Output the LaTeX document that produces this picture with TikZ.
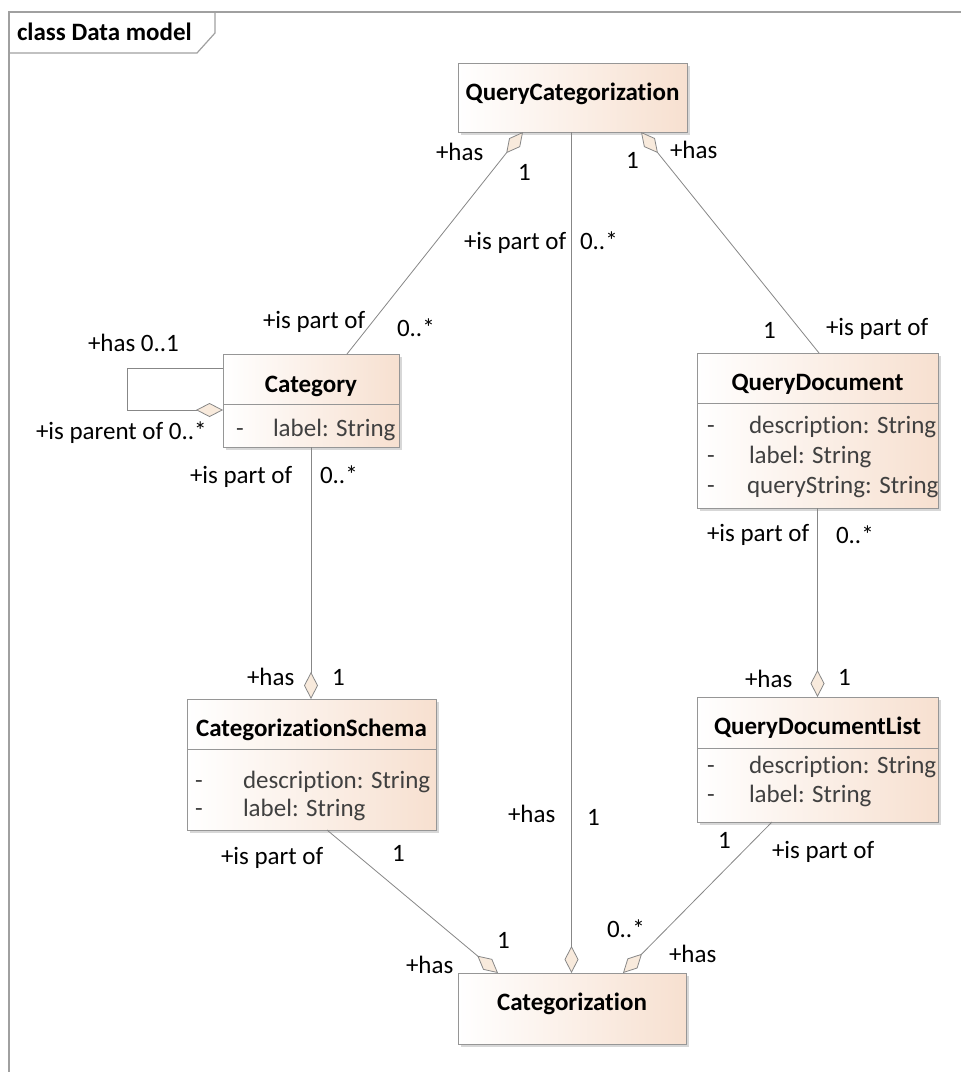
\documentclass[tikz,border=0pt]{standalone}
\usepackage{fontspec}
\setmainfont[Ligatures={NoCommon}]{Carlito}
\usetikzlibrary{arrows.meta,calc,shadows}
\definecolor{framegray}{RGB}{160,160,160}
\definecolor{linegray}{RGB}{135,135,135}
\definecolor{boxgray}{RGB}{150,150,150}
\definecolor{shadowgray}{RGB}{215,215,215}
\definecolor{peach}{RGB}{247,224,208}
\definecolor{dfill}{RGB}{248,234,220}
\definecolor{attrgray}{RGB}{64,64,64}
\begin{document}
\begin{tikzpicture}[x=1pt,y=-1pt,
  font=\fontsize{25}{30}\selectfont,
  every node/.style={inner sep=0pt, outer sep=0pt},
  classbox/.style={draw=boxgray, line width=1pt, left color=white, right color=peach,
    drop shadow={shadow xshift=3pt, shadow yshift=-3pt, fill=shadowgray, opacity=1}},
  ctitle/.style={anchor=base, font=\fontsize{25}{30}\selectfont\bfseries},
  attr/.style={anchor=base west, text=attrgray},
  lab/.style={anchor=base west, text=black},
  sepline/.style={draw=boxgray, line width=1pt},
  frame/.style={draw=framegray, line width=1.2pt},
  conn/.style={draw=linegray, line width=0.8pt},
  dtip/.tip={Diamond[length=27pt, width=14pt, fill=dfill, line width=0.8pt]},
  aggs/.style={conn, dtip-},
  agge/.style={conn, -dtip}]
\useasboundingbox (0,0) rectangle (961,1072);
\fill[white] (0,0) rectangle (961,1072);

% frame
\draw[frame] (9,1072) -- (9,12) -- (961,12);
\draw[frame] (9,53) -- (197,53) -- (215,33) -- (215,12);
\node[anchor=base west, font=\fontsize{25}{30}\selectfont\bfseries] (frametitle) at (17,40) {class Data model};

% classes
\node[classbox, minimum width=229pt, minimum height=69pt] (qc) at (572.5,97.5) {};
\node[ctitle] (qct) at (572.5,100) {QueryCategorization};

\node[classbox, minimum width=176pt, minimum height=93pt] (cat) at (311,400.5) {};
\draw[sepline] ([yshift=-50pt]cat.north west) -- ([yshift=-50pt]cat.north east);
\node[ctitle] (catt) at (311,392) {Category};
\node[attr] (cata1) at (236,436) {-};
\node[attr] (catb1) at (273,436) {label: String};

\node[classbox, minimum width=241pt, minimum height=155pt] (qd) at (817.5,430.5) {};
\draw[sepline] ([yshift=-50pt]qd.north west) -- ([yshift=-50pt]qd.north east);
\node[ctitle] (qdt) at (817.5,390) {QueryDocument};
\node[attr] (qda1) at (707,433) {-};
\node[attr] (qdb1) at (749,433) {description: String};
\node[attr] (qda2) at (707,463) {-};
\node[attr] (qdb2) at (749,463) {label: String};
\node[attr] (qda3) at (707,493) {-};
\node[attr] (qdb3) at (747,493) {queryString: String};

\node[classbox, minimum width=249pt, minimum height=131pt] (cs) at (311.5,764.5) {};
\draw[sepline] ([yshift=-50pt]cs.north west) -- ([yshift=-50pt]cs.north east);
\node[ctitle] (cst) at (311.5,736) {CategorizationSchema};
\node[attr] (csa1) at (195,788) {-};
\node[attr] (csb1) at (243,788) {description: String};
\node[attr] (csa2) at (195,816) {-};
\node[attr] (csb2) at (243,816) {label: String};

\node[classbox, minimum width=241pt, minimum height=125pt] (qdl) at (817.5,759.5) {};
\draw[sepline] ([yshift=-51pt]qdl.north west) -- ([yshift=-51pt]qdl.north east);
\node[ctitle] (qdlt) at (817.5,734) {QueryDocumentList};
\node[attr] (qdla1) at (707,773) {-};
\node[attr] (qdlb1) at (749,773) {description: String};
\node[attr] (qdla2) at (707,802) {-};
\node[attr] (qdlb2) at (749,802) {label: String};

\node[classbox, minimum width=228pt, minimum height=71pt] (cz) at (572,1008.5) {};
\node[ctitle] (czt) at (572,1010) {Categorization};

% connectors
\draw[aggs] ([xshift=-49.5pt]qc.south) -- ([xshift=36pt]cat.north);
\draw[agge] ([xshift=-1pt]qc.south) -- ([xshift=-0.5pt]cz.north);
\draw[aggs] ([xshift=68.5pt]qc.south) -- ([xshift=1.5pt]qd.north);
\draw[agge] ([yshift=-14pt]cat.north west) -- ++(-96,0) -- ++(0,42) -- ([yshift=-56pt]cat.north west);
\draw[agge] (cat.south) -- (cat.south |- cs.north);
\draw[agge] (qd.south) -- (qdl.north);
\draw[agge] ([xshift=15.5pt]cs.south) -- ([xshift=-74pt]cz.north);
\draw[agge] ([xshift=-45.5pt]qdl.south) -- ([xshift=51pt]cz.north);

% role labels
\node[lab] (l1) at (436,160) {+has};
\node[lab] (l2) at (518,180) {1};
\node[lab] (l3) at (464,249) {+is part of};
\node[lab] (l4) at (580,249) {0..*};
\node[lab] (l5) at (626,168) {1};
\node[lab] (l6) at (670,158) {+has};
\node[lab] (l7) at (263,328) {+is part of};
\node[lab] (l8) at (397,336) {0..*};
\node[lab] (l9) at (88,351) {+has 0..1};
\node[lab] (l10) at (36,439) {+is parent of 0..*};
\node[lab] (l11) at (190,483) {+is part of};
\node[lab] (l12) at (320,483) {0..*};
\node[lab] (l13) at (763,338) {1};
\node[lab] (l14) at (826,335) {+is part of};
\node[lab] (l15) at (707,541) {+is part of};
\node[lab] (l16) at (836,543) {0..*};
\node[lab] (l17) at (247,685) {+has};
\node[lab] (l18) at (332,685) {1};
\node[lab] (l19) at (745,687) {+has};
\node[lab] (l20) at (838,685) {1};
\node[lab] (l21) at (508,822) {+has};
\node[lab] (l22) at (587,825) {1};
\node[lab] (l23) at (221,864) {+is part of};
\node[lab] (l24) at (392,861) {1};
\node[lab] (l25) at (718,848) {1};
\node[lab] (l26) at (772,858) {+is part of};
\node[lab] (l27) at (497,948) {1};
\node[lab] (l28) at (406,973) {+has};
\node[lab] (l29) at (607,937) {0..*};
\node[lab] (l30) at (669,962) {+has};
\end{tikzpicture}
\end{document}
